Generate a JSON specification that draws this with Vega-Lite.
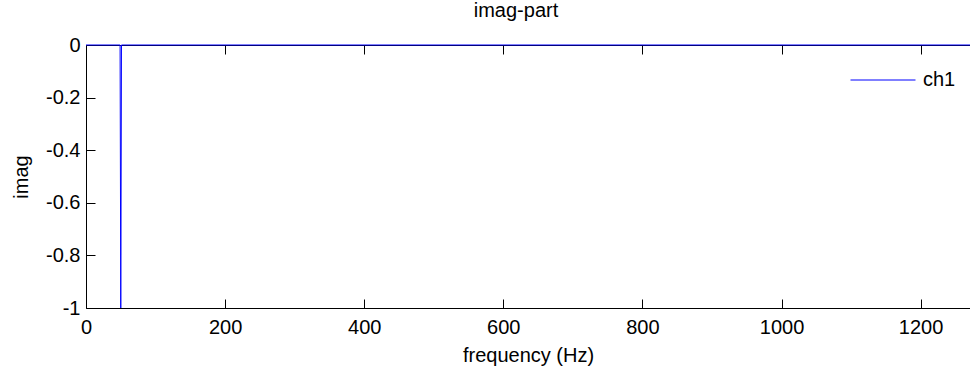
{
  "$schema": "https://vega.github.io/schema/vega-lite/v6.json",
  "width": 884,
  "height": 263,
  "autosize": {"type": "none"},
  "padding": {"left": 86, "top": 45, "right": 0, "bottom": 59},
  "background": "white",
  "title": {
    "text": "imag-part",
    "font": "Liberation Sans",
    "fontSize": 20,
    "fontWeight": "normal",
    "color": "black",
    "offset": 14,
    "dx": -12
  },
  "config": {
    "view": {"stroke": null},
    "font": "Liberation Sans",
    "axis": {
      "grid": false,
      "domainColor": "black",
      "tickColor": "black",
      "labelColor": "black",
      "titleColor": "black",
      "labelFont": "Liberation Sans",
      "titleFont": "Liberation Sans",
      "labelFontSize": 20,
      "titleFontSize": 20,
      "titleFontWeight": "normal",
      "tickSize": -9,
      "domainWidth": 1,
      "tickWidth": 1
    }
  },
  "data": {
    "values": [
      {"freq": 0, "imag": 0, "channel": "ch1"},
      {"freq": 49, "imag": 0, "channel": "ch1"},
      {"freq": 50, "imag": -1, "channel": "ch1"},
      {"freq": 51, "imag": 0, "channel": "ch1"},
      {"freq": 1271, "imag": 0, "channel": "ch1"}
    ]
  },
  "layer": [
    {
      "mark": {"type": "line", "opacity": 0},
      "encoding": {
        "x": {
          "field": "freq",
          "type": "quantitative",
          "scale": {"domain": [0, 1271], "nice": false, "zero": false},
          "axis": {
            "orient": "top",
            "labels": false,
            "title": null,
            "values": [0, 200, 400, 600, 800, 1000, 1200]
          }
        }
      }
    },
    {
      "mark": {"type": "line", "strokeWidth": 1, "color": "#0000ff"},
      "encoding": {
        "x": {
          "field": "freq",
          "type": "quantitative",
          "scale": {"domain": [0, 1271], "nice": false, "zero": false},
          "axis": {
            "orient": "bottom",
            "title": "frequency (Hz)",
            "values": [0, 200, 400, 600, 800, 1000, 1200],
            "format": "d",
            "labelPadding": 18,
            "titlePadding": 8,
            "labelFlush": false
          }
        },
        "y": {
          "field": "imag",
          "type": "quantitative",
          "scale": {"domain": [-1, 0], "nice": false},
          "axis": {
            "orient": "left",
            "title": "imag",
            "values": [-1, -0.8, -0.6, -0.4, -0.2, 0],
            "labelExpr": "datum.value == 0 ? '0' : (datum.value < 0 ? '-' + format(-datum.value, '~g') : format(datum.value, '~g'))",
            "labelPadding": 15,
            "titlePadding": 14,
            "labelFlush": false
          }
        },
        "color": {
          "field": "channel",
          "type": "nominal",
          "scale": {"range": ["#0000ff"]},
          "legend": {
            "title": null,
            "orient": "none",
            "legendX": 764,
            "legendY": 2,
            "padding": 0,
            "symbolType": "stroke",
            "symbolSize": 4225,
            "symbolStrokeWidth": 1,
            "symbolStrokeColor": "#0000ff",
            "symbolOpacity": 1,
            "labelFont": "Liberation Sans",
            "labelFontSize": 20,
            "labelColor": "black",
            "labelOffset": 7
          }
        }
      }
    }
  ],
  "resolve": {"axis": {"x": "independent"}}
}
